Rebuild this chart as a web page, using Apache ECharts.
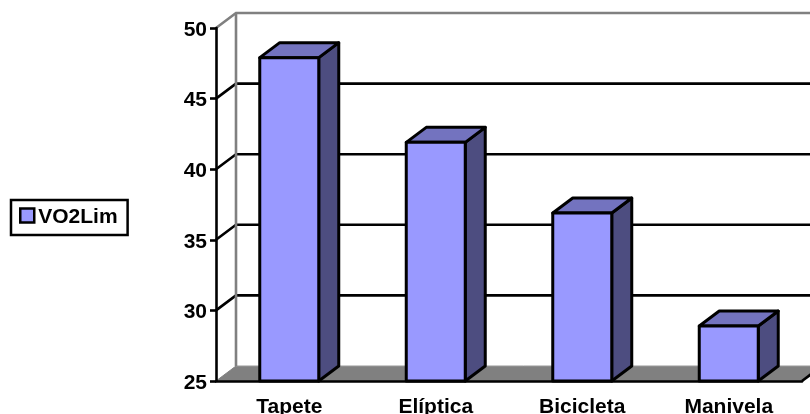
<!DOCTYPE html>
<html>
<head>
<meta charset="utf-8">
<style>html,body{margin:0;padding:0;background:#fff}#c{width:810px;height:414px}</style>
<script src="https://cdn.jsdelivr.net/npm/echarts@6/dist/echarts.min.js"></script>
</head>
<body>
<div id="c"></div>
<script>
// VO2Lim by exercise modality
const categories = ['Tapete', 'Elíptica', 'Bicicleta', 'Manivela'];
const vo2Lim = [47.9, 41.9, 36.9, 28.9];
const yTicks = [25, 30, 35, 40, 45, 50];

// Oblique projection of the chart box
const DX = 20, DY = -15;
const BAR_WIDTH = 59;
const FILL = '#9999ff', TOP = '#7373bf', SIDE = '#4d4d80', INK = '#000', WALL = '#808080';
const STROKE = 2.6;

const chart = echarts.init(document.getElementById('c'));

// Floor, back wall edges and wall gridlines, all derived from the value axis
function renderBox(params, api) {
  if (params.dataIndex !== 0) return null;
  const x0 = params.coordSys.x, w = params.coordSys.width;
  const x1 = x0 + w;
  const yAt = v => api.coord([0, v])[1];
  const base = yAt(25), top = yAt(50);
  const kids = [{
    type: 'polygon',
    shape: { points: [[x0, base], [x0 + DX, base + DY], [x1 + DX, base + DY], [x1, base]] },
    style: { fill: WALL, stroke: null }
  }, {
    type: 'line',
    shape: { x1: x0 + DX, y1: base + DY, x2: x1 + DX, y2: base + DY },
    style: { stroke: '#999', lineWidth: 1 }
  }, {
    type: 'line',
    shape: { x1: x1, y1: base, x2: x1 + DX, y2: base + DY },
    style: { stroke: INK, lineWidth: STROKE }
  }];
  yTicks.forEach(v => {
    if (v === 25) return;
    const y = yAt(v), gray = v === 50;
    kids.push({
      type: 'polyline',
      shape: { points: [[x0, y], [x0 + DX, y + DY], [x1 + DX, y + DY]] },
      style: { stroke: gray ? WALL : INK, lineWidth: STROKE, fill: null }
    });
  });
  kids.push({
    type: 'line',
    shape: { x1: x0 + DX, y1: top + DY, x2: x0 + DX, y2: base + DY },
    style: { stroke: WALL, lineWidth: STROKE }
  }, {
    type: 'line',
    shape: { x1: x0, y1: base, x2: x0 + DX, y2: base + DY },
    style: { stroke: WALL, lineWidth: 1 }
  });
  return { type: 'group', children: kids };
}

// Extruded bar: front face, top face and right side
function renderBar(params, api) {
  const p = api.coord([api.value(0), api.value(1)]);
  const b = api.coord([api.value(0), 25]);
  const l = p[0] - BAR_WIDTH / 2, r = p[0] + BAR_WIDTH / 2, t = p[1], y0 = b[1];
  const edge = { stroke: INK, lineWidth: 3, lineJoin: 'round' };
  return {
    type: 'group',
    children: [{
      type: 'polygon',
      shape: { points: [[r, y0], [r + DX, y0 + DY], [r + DX, t + DY], [r, t]] },
      style: Object.assign({ fill: SIDE }, edge)
    }, {
      type: 'polygon',
      shape: { points: [[l, t], [l + DX, t + DY], [r + DX, t + DY], [r, t]] },
      style: Object.assign({ fill: TOP }, edge)
    }, {
      type: 'rect',
      shape: { x: l, y: t, width: BAR_WIDTH, height: y0 - t },
      style: Object.assign({ fill: FILL }, edge)
    }]
  };
}

const labelFont = { fontFamily: 'Liberation Sans', fontWeight: 'bold', fontSize: 21, color: '#000' };
// Rich-text style that sits the digits and legend text slightly below the centre line
const lowered = { n: Object.assign({ padding: [4, 0, 0, 0] }, labelFont) };

chart.setOption({
  animation: false,
  backgroundColor: '#fff',
  grid: { left: 216, top: 28, width: 586, height: 353, outerBoundsMode: 'none' },
  legend: {
    left: 11, top: 200, orient: 'vertical',
    data: [{ name: 'VO2Lim', icon: 'rect', itemStyle: { color: FILL, borderColor: INK, borderWidth: 2.5 } }],
    padding: [7, 10, 7, 8],
    itemWidth: 14, itemHeight: 14, itemGap: 0,
    borderColor: INK, borderWidth: 2.5, backgroundColor: '#fff',
    formatter: '{n|{name}}',
    textStyle: Object.assign({ rich: lowered, padding: [0, 0, 0, -1] }, labelFont)
  },
  xAxis: {
    type: 'category', data: categories,
    axisLine: { lineStyle: { color: INK, width: STROKE } },
    axisTick: { alignWithLabel: false, length: 7, lineStyle: { color: INK, width: STROKE } },
    axisLabel: Object.assign({ margin: 16 }, labelFont),
    z: 5
  },
  yAxis: {
    type: 'value', min: 25, max: 50, interval: 5,
    axisLine: { show: true, lineStyle: { color: INK, width: STROKE } },
    axisTick: { show: true, length: 6, lineStyle: { color: INK, width: STROKE } },
    axisLabel: Object.assign({ margin: 9, formatter: '{n|{value}}', rich: lowered }, labelFont),
    splitLine: { show: false },
    z: 5
  },
  series: [{
    type: 'custom', name: 'box', silent: true, z: 1,
    renderItem: renderBox, clip: false,
    data: [[0, 25]], encode: { x: 0, y: 1 }
  }, {
    type: 'custom', name: 'VO2Lim', z: 3,
    renderItem: renderBar, clip: false,
    itemStyle: { color: FILL },
    data: categories.map((c, i) => [i, vo2Lim[i]]), encode: { x: 0, y: 1 }
  }]
});
</script>
</body>
</html>
